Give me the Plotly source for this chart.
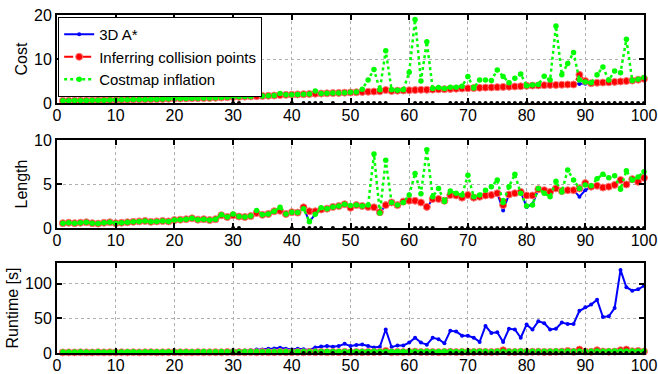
import plotly.graph_objects as go

x = list(range(1, 101))

cost_astar = [0.50,0.52,0.54,0.56,0.58,0.60,0.62,0.64,0.66,0.68,
 0.72,0.75,0.78,0.80,0.82,0.85,0.88,0.90,0.95,1.00,
 1.02,1.05,1.08,1.10,1.12,1.15,1.20,1.25,1.30,1.35,
 1.40,1.45,1.50,1.55,1.60,1.65,1.70,1.80,1.85,1.90,
 1.95,2.00,2.05,2.10,2.15,2.20,2.25,2.30,2.35,2.40,
 2.45,2.50,2.55,2.60,2.55,2.70,2.75,2.80,2.85,2.90,
 2.95,3.00,3.00,3.05,3.10,3.15,3.20,3.25,3.30,3.35,
 3.40,3.45,3.50,3.55,3.60,3.65,3.70,3.75,3.80,3.90,
 3.95,4.00,4.05,4.10,4.10,4.15,4.20,4.20,4.30,4.35,
 4.50,4.60,4.65,4.70,4.80,4.90,5.00,5.10,5.30,5.50]

cost_infer = [0.50,0.52,0.54,0.56,0.58,0.60,0.62,0.64,0.66,0.68,
 0.72,0.75,0.78,0.80,0.82,0.85,0.88,0.90,0.95,1.00,
 1.02,1.05,1.08,1.10,1.12,1.15,1.20,1.25,1.30,1.35,
 1.40,1.45,1.50,1.55,1.60,1.65,1.70,1.80,1.85,1.90,
 1.95,2.00,2.05,2.10,2.15,2.20,2.25,2.30,2.35,2.40,
 2.45,2.50,2.55,2.60,2.65,2.95,2.75,2.80,2.85,2.90,
 2.95,3.00,3.00,3.05,3.10,3.15,3.20,3.25,3.30,3.35,
 3.40,3.45,3.50,3.55,3.60,3.65,3.70,3.75,3.80,3.90,
 3.95,4.00,4.05,4.10,4.10,4.15,4.20,4.20,6.40,5.00,
 4.50,4.60,4.65,4.70,4.80,4.90,5.00,5.10,5.30,5.50]

cost_costmap = [0.50,0.52,0.54,0.56,0.58,0.60,0.62,0.64,0.66,0.68,
 0.72,0.75,0.78,0.80,0.82,0.85,0.88,0.90,0.95,1.00,
 1.02,1.05,1.08,1.10,1.12,1.15,1.20,1.25,1.30,1.35,
 1.40,1.45,1.50,2.00,1.60,1.65,1.70,2.15,1.85,1.90,
 1.95,2.00,2.05,2.70,2.15,2.20,2.25,2.30,2.35,2.45,
 2.50,3.10,5.20,7.60,3.00,11.90,3.00,2.90,3.00,7.00,
 19.00,5.00,13.90,3.30,3.50,3.30,3.60,3.60,3.80,6.00,
 3.40,5.20,5.20,5.10,7.50,6.00,4.60,5.60,6.60,3.90,
 4.10,4.20,6.10,5.20,17.50,6.40,9.00,11.50,5.20,4.80,
 4.60,6.40,8.20,5.20,7.30,6.90,14.50,5.10,5.40,5.80]

len_astar = [0.55,0.60,0.55,0.60,0.65,0.55,0.50,0.60,0.65,0.55,
 0.60,0.65,0.70,0.75,0.80,0.70,0.75,0.80,0.75,0.90,
 0.95,1.00,1.10,0.95,1.00,0.90,1.00,1.45,1.25,1.45,
 1.30,1.25,1.35,1.70,1.50,1.60,1.90,1.95,1.60,1.80,
 1.75,2.35,0.70,1.60,2.10,2.20,2.40,2.50,2.70,2.30,
 2.60,2.50,2.40,2.35,1.70,2.60,2.90,2.60,3.00,3.10,
 3.10,2.90,2.30,3.30,3.30,3.10,3.75,3.70,3.45,3.75,
 3.45,3.55,3.70,3.75,3.95,2.00,3.80,3.95,4.10,2.40,
 2.70,4.40,4.30,3.80,4.50,4.20,4.30,4.30,3.55,4.30,
 4.70,4.80,4.60,4.70,4.90,5.45,4.95,5.55,5.25,5.70]

len_infer = [0.55,0.60,0.55,0.60,0.65,0.55,0.50,0.60,0.65,0.55,
 0.60,0.65,0.70,0.75,0.80,0.70,0.75,0.80,0.75,0.90,
 0.95,1.00,1.10,0.95,1.00,0.90,1.00,1.45,1.25,1.45,
 1.30,1.25,1.35,1.70,1.50,1.60,1.90,1.95,1.60,1.80,
 1.75,2.35,1.90,1.90,2.10,2.20,2.40,2.50,2.70,2.30,
 2.60,2.50,2.40,2.35,1.80,2.60,2.90,2.60,3.00,3.10,
 3.10,2.90,2.40,3.30,3.30,3.10,3.75,3.70,3.45,3.75,
 3.45,3.55,3.70,3.75,3.95,2.60,3.80,3.95,4.10,3.70,
 3.70,4.40,4.30,4.10,4.50,4.20,4.30,4.30,4.50,5.10,
 4.70,4.80,4.60,4.70,4.90,5.45,4.95,5.55,5.25,5.70]

len_costmap = [0.55,0.60,0.55,0.60,0.65,0.55,0.50,0.60,0.65,0.55,
 0.60,0.65,0.70,0.75,0.80,0.70,0.75,0.80,0.75,0.90,
 0.95,1.00,1.10,0.95,1.00,0.90,1.00,1.50,1.25,1.60,
 1.30,1.25,1.35,2.00,1.50,1.60,1.90,2.35,1.60,1.80,
 1.75,2.20,0.70,1.55,2.30,2.20,2.40,2.50,2.70,2.55,
 2.60,2.50,2.60,8.40,1.70,7.70,2.90,2.60,2.90,3.75,
 6.20,3.90,8.90,3.55,4.50,3.00,4.20,3.95,3.75,6.00,
 3.55,3.75,4.30,4.70,5.45,2.90,4.70,6.10,3.95,2.50,
 2.60,4.50,3.95,3.55,5.30,4.10,6.60,5.45,4.50,4.90,
 4.80,5.60,6.10,5.70,5.95,4.40,6.50,5.45,5.80,6.40]

run_astar = [1.0,1.0,1.1,1.1,1.2,1.2,1.3,1.3,1.4,1.4,
 1.5,1.5,1.6,1.6,1.7,1.7,1.8,1.8,1.9,2.0,
 2.0,2.1,2.2,2.2,2.3,2.4,2.5,2.6,2.8,4.0,
 3.5,3.5,4.0,5.0,5.0,6.0,6.5,7.5,6.0,5.0,
 6.0,5.5,4.5,8.0,9.5,10.0,9.0,10.0,13.4,10.0,
 11.5,12.4,10.0,8.0,9.0,34.0,8.5,11.0,11.0,15.0,
 22.0,15.0,12.0,22.0,20.0,14.0,32.0,31.0,25.0,25.0,
 22.0,16.0,39.0,29.0,30.0,16.0,35.0,34.0,22.0,41.0,
 34.0,46.0,43.0,34.0,35.0,44.0,42.0,42.0,61.0,66.0,
 70.0,77.0,52.0,53.0,65.0,120.0,95.0,90.0,92.0,97.0]

run_infer = [0.8,0.9,0.8,1.0,0.9,0.8,1.0,0.9,1.0,0.8,
 1.0,0.9,1.1,0.9,1.0,1.2,0.9,1.0,1.1,1.2,
 1.0,1.1,0.9,1.2,1.0,1.1,1.2,1.0,1.3,1.1,
 1.2,1.0,1.3,1.1,1.4,1.2,1.0,1.5,1.2,1.1,
 1.3,1.0,1.4,1.2,1.5,1.1,1.3,1.2,1.6,1.0,
 1.4,1.2,1.5,1.3,1.6,3.0,1.2,1.4,1.3,1.5,
 2.0,1.3,1.6,1.4,1.2,1.5,1.7,1.3,1.5,1.6,
 1.4,1.8,1.5,1.3,1.7,4.0,1.6,1.4,1.8,1.5,
 1.7,1.9,1.6,1.5,1.8,2.0,3.0,1.7,5.0,2.0,
 1.8,4.0,2.2,1.9,2.0,4.0,5.0,2.5,3.0,2.2]

run_costmap = [1.5,1.6,1.5,1.7,1.6,1.5,1.7,1.6,1.6,1.7,
 1.6,1.7,1.8,1.6,1.7,1.8,1.7,1.8,1.7,1.9,
 1.8,1.9,1.8,1.9,2.0,1.8,1.9,2.0,1.9,2.0,
 1.9,2.0,2.1,2.0,1.9,2.1,2.0,2.2,2.0,2.1,
 2.0,2.2,1.9,2.1,2.2,2.0,2.3,2.1,2.2,2.0,
 2.2,2.3,2.1,2.4,2.0,2.6,2.1,2.3,2.2,2.4,
 2.5,2.2,2.6,2.3,2.2,2.4,2.6,2.3,2.5,2.7,
 2.4,2.6,2.5,2.3,2.7,2.5,2.6,2.4,2.8,2.5,
 2.6,2.7,2.5,2.6,2.8,2.7,2.9,2.6,2.8,2.7,
 2.6,2.9,2.7,2.8,2.9,2.8,3.0,2.8,2.9,3.0]

fail_x = [30, 31, 40, 42, 43, 44, 45, 47, 49, 51, 52, 53, 54, 55, 56,
          61, 62, 63, 64, 67, 68, 69, 70, 71, 72, 73, 74, 75, 76, 77, 78,
          79, 80, 81, 82, 83, 84, 85, 86, 87, 88, 89, 90, 91, 92, 93, 94,
          95, 96, 97, 98, 99, 100]

x_ticks = [0, 10, 20, 30, 40, 50, 60, 70, 80, 90, 100]
y_titles = ["Cost", "Length", "Runtime [s]"]
y_ranges = [[0, 20], [0, 10], [0, 130]]
y_ticks = [[0, 10, 20], [0, 5, 10], [0, 50, 100]]
names = ["3D A*", "Inferring collision points", "Costmap inflation"]

BLUE = "rgb(0,0,255)"
RED = "rgb(255,0,0)"
GREEN = "rgb(0,255,0)"

fig = go.Figure()
panels = [
    (cost_astar, cost_infer, cost_costmap),
    (len_astar, len_infer, len_costmap),
    (run_astar, run_infer, run_costmap),
]
for i, (a, b, c) in enumerate(panels):
    sfx = "" if i == 0 else str(i + 1)
    xa, ya = "x" + sfx, "y" + sfx
    show = i == 0
    fig.add_trace(go.Scatter(x=x, y=a, name=names[0], mode="lines+markers",
                             line=dict(color=BLUE, width=2),
                             marker=dict(color=BLUE, size=4),
                             xaxis=xa, yaxis=ya, showlegend=show,
                             cliponaxis=False))
    fig.add_trace(go.Scatter(x=x, y=b, name=names[1], mode="lines+markers",
                             line=dict(color=RED, width=2, dash="dashdot"),
                             marker=dict(color=RED, size=7,
                                         line=dict(color="rgb(255,120,120)", width=1)),
                             xaxis=xa, yaxis=ya, showlegend=show,
                             cliponaxis=False))
    fig.add_trace(go.Scatter(x=x, y=c, name=names[2], mode="lines+markers",
                             line=dict(color=GREEN, width=2.5, dash="dot"),
                             marker=dict(color=GREEN, size=5.5),
                             xaxis=xa, yaxis=ya, showlegend=show,
                             cliponaxis=False))
    fig.add_trace(go.Scatter(x=fail_x, y=[y_ranges[i][0]] * len(fail_x),
                             mode="markers", marker=dict(color="black", size=4),
                             xaxis=xa, yaxis=ya, showlegend=False,
                             hoverinfo="skip", cliponaxis=False))

H = 374 - 15 - 21
domains = [[(353 - 103) / H, 1.0], [(353 - 228) / H, (353 - 140) / H], [0.0, (353 - 263) / H]]

font_family = "Liberation Sans, Arial, sans-serif"
layout = dict(
    width=658, height=374,
    margin=dict(l=57, r=14, t=15, b=21, autoexpand=False),
    paper_bgcolor="white", plot_bgcolor="white",
    font=dict(family=font_family, size=16, color="black"),
    showlegend=True,
    legend=dict(x=0.002, y=0.994, xanchor="left", yanchor="top",
                bgcolor="white", bordercolor="black", borderwidth=1,
                font=dict(size=15, family=font_family),
                tracegroupgap=0, itemwidth=30),
)
for i in range(3):
    sfx = "" if i == 0 else str(i + 1)
    layout["xaxis" + sfx] = dict(
        domain=[0, 1], range=[0, 100], anchor="y" + sfx, automargin=False,
        tickvals=x_ticks, ticks="inside", ticklen=5, tickwidth=1.5,
        tickcolor="black", showline=True, linecolor="black", linewidth=2,
        mirror="ticks", showgrid=True, gridcolor="rgb(175,175,175)",
        griddash="dot", gridwidth=1, zeroline=False,
        tickfont=dict(size=16), ticklabelstandoff=-3,
    )
    layout["yaxis" + sfx] = dict(
        domain=domains[i], range=y_ranges[i], anchor="x" + sfx, automargin=False,
        tickvals=y_ticks[i], ticks="inside", ticklen=5, tickwidth=1.5,
        tickcolor="black", showline=True, linecolor="black", linewidth=2,
        mirror="ticks", showgrid=True, gridcolor="rgb(175,175,175)",
        griddash="dot", gridwidth=1, zeroline=False,
        tickfont=dict(size=16),
        title=dict(text=y_titles[i], font=dict(size=16), standoff=2),
    )
fig.update_layout(**layout)
fig.write_html("out.html", config={"displayModeBar": False},
               post_script="document.body.style.margin='0';document.body.style.overflow='hidden';")
